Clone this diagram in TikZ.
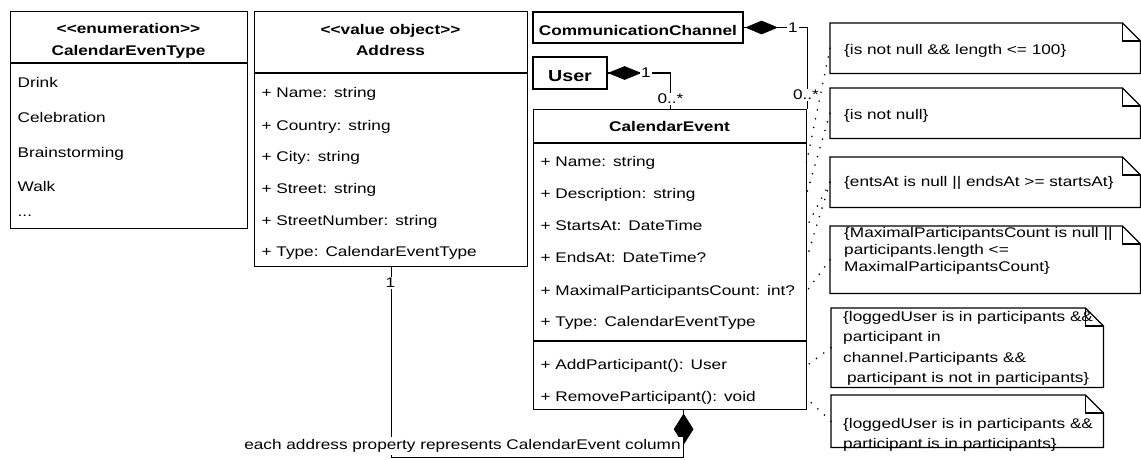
\documentclass[tikz,border=0pt]{standalone}
\usepackage{fontspec}
\newfontfamily\umlfont{Liberation Sans}[FakeStretch=1.23]
\usetikzlibrary{calc}
\newcommand\foldnote[1]{%
  \draw[boxline] (#1.north west) -- ([xshift=-18pt]#1.north east) -- ([yshift=-18pt]#1.north east) -- (#1.south east) -- (#1.south west) -- cycle;
  \draw[boxline] ([xshift=-18pt]#1.north east) -- ([xshift=-18pt,yshift=-18pt]#1.north east) -- ([yshift=-18pt]#1.north east);}
\newcommand\notelines[2]{\parbox[t]{300pt}{\baselineskip=#1pt\relax #2}}
\begin{document}
\begin{tikzpicture}[x=1pt,y=-1pt,
  txt/.style={font=\umlfont\fontsize{14pt}{17pt}\selectfont},
  boldtxt/.style={font=\umlfont\fontsize{14pt}{17pt}\selectfont\bfseries},
  boxline/.style={line width=1.2pt},
  classbox/.style={draw, boxline, anchor=north west, inner sep=0pt},
  row/.style={txt, anchor=west, inner xsep=7.5pt, inner ysep=1pt, text height=10.5pt, text depth=3.5pt, align=left},
  hdr/.style={boldtxt, anchor=base, inner sep=0pt},
  mult/.style={txt, fill=white, inner sep=1pt},
  notebox/.style={anchor=north west, inner sep=0pt},
  notetext/.style={txt, anchor=base west, inner sep=0pt},
  dots/.style={line width=1.8pt, dash pattern=on 0pt off 9pt, line cap=round},
  comp/.style={boxline},
  diam/.style={fill=black, draw=black, line width=0.6pt, line join=miter}]
\useasboundingbox (0,0) rectangle (1141,459);

% enumeration
\node[classbox, minimum width=237pt, minimum height=217pt] (enum) at (10,11) {};
\draw[boxline] ($(enum.north west)+(0,52)$) -- ($(enum.north east)+(0,52)$);
\node[hdr] (enum-st) at (128.5,33.3) {<<enumeration>>};
\node[hdr] (enum-nm) at (128.5,55) {CalendarEvenType};
\node[row, text width=222pt] (e1) at (10,83.8) {Drink};
\node[row, text width=222pt] (e2) at (10,118.8) {Celebration};
\node[row, text width=222pt] (e3) at (10,153.6) {Brainstorming};
\node[row, text width=222pt] (e4) at (10,188.4) {Walk};
\node[row, text width=222pt] (e5) at (10,213.2) {...};

% address
\node[classbox, minimum width=273pt, minimum height=255pt] (addr) at (254,11) {};
\draw[boxline] ($(addr.north west)+(0,62)$) -- ($(addr.north east)+(0,62)$);
\node[hdr] (addr-st) at (390.5,34) {<<value object>>};
\node[hdr] (addr-nm) at (390.5,55.5) {Address};
\node[row, text width=258pt] (a1) at (254,93.8) {+ Name: string};
\node[row, text width=258pt] (a2) at (254,126.5) {+ Country: string};
\node[row, text width=258pt] (a3) at (254,157.5) {+ City: string};
\node[row, text width=258pt] (a4) at (254,189.8) {+ Street: string};
\node[row, text width=258pt] (a5) at (254,221.5) {+ StreetNumber: string};
\node[row, text width=258pt] (a6) at (254,253.2) {+ Type: CalendarEventType};

% communication channel and user
\node[draw, boxline, boldtxt, minimum width=210pt, minimum height=31pt, inner sep=0pt, text height=15pt, text depth=0pt] (cc) at (638,27.5) {CommunicationChannel};
\node[draw, boxline, font=\umlfont\fontsize{16pt}{19pt}\selectfont\bfseries, minimum width=74pt, minimum height=32pt, inner sep=0pt, text height=17.4pt, text depth=0pt] (user) at (570,73) {User};

% calendar event
\node[classbox, minimum width=273pt, minimum height=300pt] (ce) at (533,109) {};
\draw[boxline] ($(ce.north west)+(0,34)$) -- ($(ce.north east)+(0,34)$);
\draw[boxline] ($(ce.north west)+(0,232)$) -- ($(ce.north east)+(0,232)$);
\node[hdr] (ce-nm) at (669.5,131.5) {CalendarEvent};
\node[row, text width=258pt] (c1) at (533,163.2) {+ Name: string};
\node[row, text width=258pt] (c2) at (533,194.8) {+ Description: string};
\node[row, text width=258pt] (c3) at (533,227.2) {+ StartsAt: DateTime};
\node[row, text width=258pt] (c4) at (533,259.2) {+ EndsAt: DateTime?};
\node[row, text width=258pt] (c5) at (533,291.5) {+ MaximalParticipantsCount: int?};
\node[row, text width=258pt] (c6) at (533,323.2) {+ Type: CalendarEventType};
\node[row, text width=258pt] (c7) at (533,365.8) {+ AddParticipant(): User};
\node[row, text width=258pt] (c8) at (533,398.2) {+ RemoveParticipant(): void};

% compositions
\draw[comp] (user.east) -| (ce.north);
\draw[comp] (cc.east) -| (ce.north east);
\draw[comp] ([xshift=13.5pt]ce.south) -- ++(0,47) -| (addr.south);
\filldraw[diam] ([xshift=1pt]user.east) -- ++(16,-6.5) -- ++(16,6.5) -- ++(-16,6.5) -- cycle;
\filldraw[diam] ([xshift=2.5pt]cc.east) -- ++(15.5,-6.5) -- ++(15.5,6.5) -- ++(-15.5,6.5) -- cycle;
\filldraw[diam] ([xshift=13.5pt,yshift=-4pt]ce.south) -- ++(-9.5,15) -- ++(9.5,15) -- ++(9.5,-15) -- cycle;
\node[mult] (m1) at (646,73) {1};
\node[mult] (m2) at (670.5,99) {0..*};
\node[mult] (m3) at (793,27.5) {1};
\node[mult] (m4) at (806,95) {0..*};
\node[mult] (m5) at (390.5,283) {1};
\node[mult, inner sep=2pt] (lbl) at (462.5,446) {each address property represents CalendarEvent column};

% notes
\node[notebox, minimum width=310pt, minimum height=50pt] (n1) at (830,23) {};
\node[notebox, minimum width=310pt, minimum height=50pt] (n2) at (830,88) {};
\node[notebox, minimum width=310pt, minimum height=50pt] (n3) at (830,157) {};
\node[notebox, minimum width=310pt, minimum height=67pt] (n4) at (830,226) {};
\node[notebox, minimum width=272pt, minimum height=79pt] (n5) at (831,308) {};
\node[notebox, minimum width=272pt, minimum height=52pt] (n6) at (831,395) {};

\draw[dots] (n1.west) -- (c1.east);
\draw[dots] (n2.west) -- (c2.east);
\draw[dots] (n3.west) -- (c3.east);
\draw[dots] (n3.west) -- (c4.east);
\draw[dots] (n4.west) -- (c5.east);
\draw[dots] (n5.west) -- (c7.east);
\draw[dots] (n6.west) -- (c8.east);

\foldnote{n1}
\foldnote{n2}
\foldnote{n3}
\foldnote{n4}
\foldnote{n5}
\foldnote{n6}

\node[notetext] (t1) at (844,54) {\{is not null \&\& length <= 100\}};
\node[notetext] (t2) at (844,119.3) {\{is not null\}};
\node[notetext] (t3) at (844,186.7) {\{entsAt is null || endsAt >= startsAt\}};
\node[notetext] (t4) at (844,237.3) {\notelines{17}{\{MaximalParticipantsCount is null ||\\participants.length <=\\MaximalParticipantsCount\}}};
\node[notetext] (t5) at (843,321) {\notelines{20.5}{\{loggedUser is in participants \&\&\\participant in\\channel.Participants \&\&\\\hspace*{3.9pt}participant is not in participants\}}};
\node[notetext] (t6) at (843,428) {\notelines{20.5}{\{loggedUser is in participants \&\&\\participant is in participants\}}};
\end{tikzpicture}
\end{document}
